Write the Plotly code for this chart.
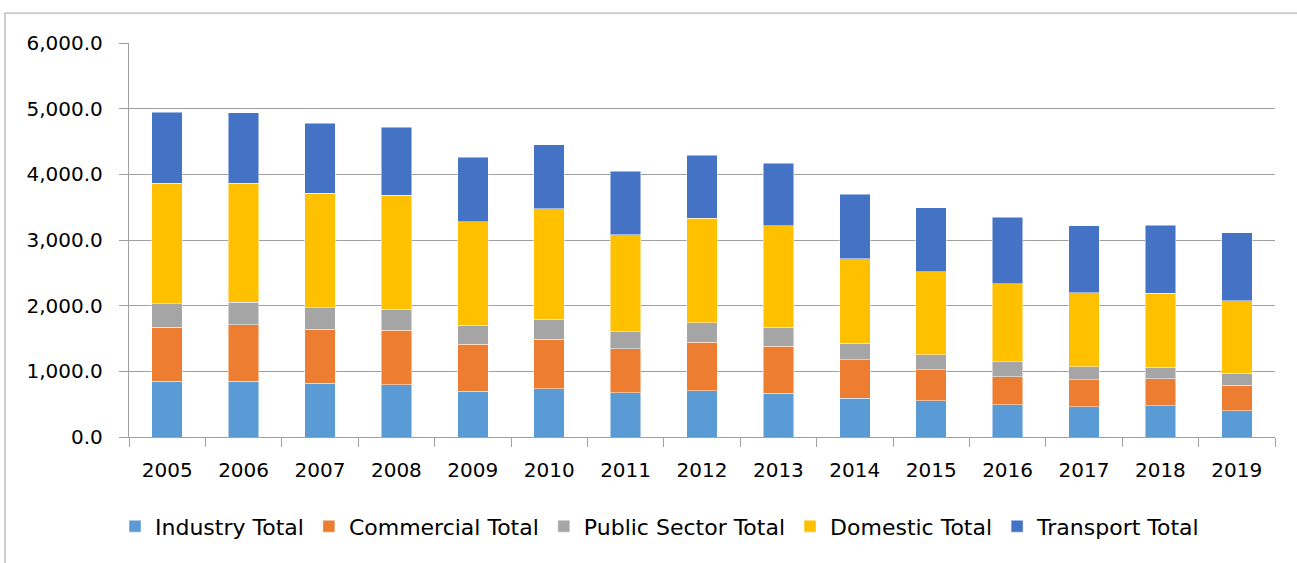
import plotly.graph_objects as go

years = ["2005", "2006", "2007", "2008", "2009", "2010", "2011", "2012",
         "2013", "2014", "2015", "2016", "2017", "2018", "2019"]
industry = [848, 848, 818, 798, 696, 737, 672, 707, 666, 590, 550, 489, 464, 479, 398]
commercial = [821, 862, 820, 825, 720, 749, 673, 734, 714, 583, 471, 426, 405, 405, 389]
public_sector = [360, 345, 330, 319, 283, 304, 258, 299, 295, 253, 233, 228, 198, 177, 183]
domestic = [1839, 1813, 1743, 1739, 1576, 1683, 1479, 1591, 1539, 1291, 1261, 1194, 1129, 1130, 1104]
transport = [1079, 1068, 1069, 1033, 988, 977, 968, 958, 958, 979, 977, 1009, 1018, 1034, 1034]

series = [
    ("Industry Total", industry, "#5B9BD5"),
    ("Commercial Total", commercial, "#ED7D31"),
    ("Public Sector Total", public_sector, "#A5A5A5"),
    ("Domestic Total", domestic, "#FFC000"),
    ("Transport Total", transport, "#4472C4"),
]

FONT = "DejaVu Sans"
fig = go.Figure()
for name, vals, color in series:
    fig.add_trace(go.Bar(
        x=years, y=vals, name=name,
        marker=dict(color=color, line=dict(color="rgba(255,255,255,0.6)", width=0.8)),
    ))

W, H = 1297, 563
L, R, T, B = 129, 22, 43, 125.5
pw, ph = W - L - R, H - T - B

fig.update_layout(
    barmode="stack",
    bargap=0.6,
    width=W, height=H,
    margin=dict(l=L, r=R, t=T, b=B, pad=0),
    paper_bgcolor="white", plot_bgcolor="white",
    font=dict(family=FONT, size=20, color="#000000"),
    showlegend=True,
    legend=dict(
        orientation="h", x=(660 - L) / pw, xanchor="center",
        y=-(527 - (H - B)) / ph, yanchor="middle",
        font=dict(family=FONT, size=22, color="#000000"),
        itemwidth=30, tracegroupgap=0,
        traceorder="normal",
    ),
    xaxis=dict(
        type="category",
        showline=True, linecolor="#a0a0a0", linewidth=1.3,
        ticks="outside", tickson="boundaries", ticklen=9, tickcolor="#a0a0a0", tickwidth=1.3,
        showgrid=False,
        ticklabelstandoff=15,
        tickfont=dict(family=FONT, size=20, color="#000000"),
    ),
    yaxis=dict(
        range=[0, 6000], dtick=1000, tickformat=",.1f",
        showgrid=True, gridcolor="#a0a0a0", gridwidth=1.3,
        showline=True, linecolor="#a0a0a0", linewidth=1.3,
        ticks="outside", ticklen=9, tickcolor="#a0a0a0", tickwidth=1.3,
        zeroline=False,
        ticklabelstandoff=12,
        tickfont=dict(family=FONT, size=20, color="#000000"),
    ),
    shapes=[dict(
        type="rect", xref="paper", yref="paper",
        x0=(5 - L) / pw, x1=(W + 10 - L) / pw,
        y0=-(H + 10 - (H - B)) / ph, y1=((H - B) - 13) / ph,
        line=dict(color="#b4b4b4", width=1.3), fillcolor="rgba(0,0,0,0)",
        layer="below",
    )],
)

fig.write_html("out.html", config={"displayModeBar": False})

# remove the default page margin so the figure sits at the window origin
with open("out.html", "r", encoding="utf-8") as f:
    html = f.read()
html = html.replace("<head>", "<head><style>html,body{margin:0;padding:0;overflow:hidden;}</style>", 1)
with open("out.html", "w", encoding="utf-8") as f:
    f.write(html)
